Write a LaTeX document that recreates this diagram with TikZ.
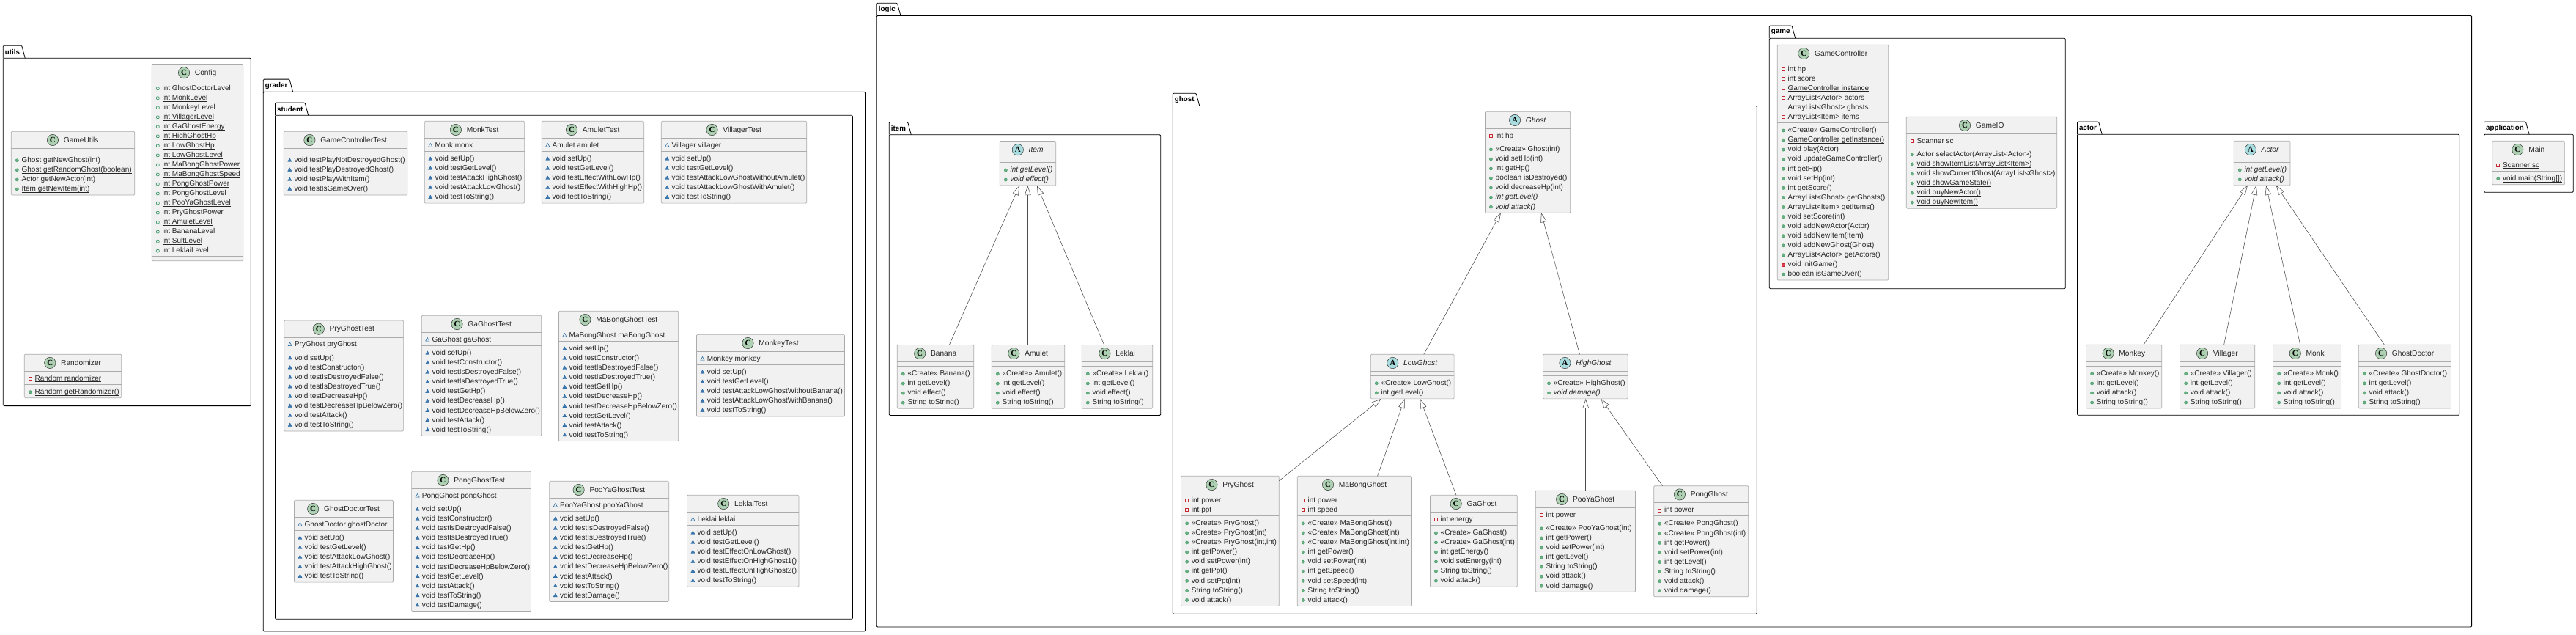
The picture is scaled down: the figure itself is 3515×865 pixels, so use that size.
\documentclass[tikz,border=0pt]{standalone}
\usepackage{fontspec}
\setmainfont{Liberation Sans}
\newfontfamily\spotfont{Liberation Serif}
\usepackage{tikz}
\usetikzlibrary{arrows.meta, positioning, calc, shapes.geometric}

\definecolor{boxfill}{HTML}{F1F1F1}
\definecolor{boxline}{HTML}{ABABAB}
\definecolor{spotgreen}{HTML}{ADD1B2}
\definecolor{spotblue}{HTML}{A9DCDF}
\definecolor{visgreen}{HTML}{2F8F5F}
\definecolor{visgreenfill}{HTML}{68B07F}
\definecolor{visred}{HTML}{C82930}
\definecolor{visredfill}{HTML}{E04050}
\definecolor{visblue}{HTML}{1963A0}
\definecolor{visbluefill}{HTML}{4177AF}

\tikzset{
    classbox/.style={rectangle, draw=boxline, fill=boxfill, line width=0.7pt, rounded corners=1.2pt, inner sep=0pt, outer sep=0pt},
    sepline/.style={draw=boxline, line width=0.7pt},
    rowtext/.style={anchor=west, inner sep=0pt, outer sep=0pt, text height=7.5pt, text depth=2pt, font=\fontsize{10}{12}\selectfont, text=black!85},
    classname/.style={inner sep=0pt, outer sep=0pt, text height=7.5pt, text depth=2pt, font=\fontsize{10.2}{12}\selectfont, text=black!85},
    spotC/.style={circle, draw=black!80, fill=spotgreen, line width=0.5pt, minimum size=15.3pt, inner sep=0pt, font=\spotfont\bfseries\fontsize{11}{11}\selectfont},
    spotA/.style={spotC, fill=spotblue},
    pubm/.style={circle, draw=visgreen, fill=visgreenfill, line width=0.3pt, minimum size=4.2pt, inner sep=0pt},
    pubf/.style={circle, draw=visgreen, fill=boxfill, line width=0.6pt, minimum size=4.2pt, inner sep=0pt},
    prif/.style={rectangle, draw=visred, fill=boxfill, line width=0.6pt, minimum size=4pt, inner sep=0pt},
    prim/.style={rectangle, draw=visred, fill=visredfill, line width=0.3pt, minimum size=4.2pt, inner sep=0pt},
    pkgf/.style={regular polygon, regular polygon sides=3, draw=visblue, fill=boxfill, line width=0.5pt, minimum size=6pt, inner sep=0pt},
    pkgm/.style={regular polygon, regular polygon sides=3, draw=visblue, fill=visbluefill, line width=0.3pt, minimum size=6pt, inner sep=0pt},
    pkgbody/.style={rectangle, draw=black, line width=0.8pt, rounded corners=1.2pt, anchor=north west, inner sep=0pt, outer sep=0pt},
    pkgtab/.style={anchor=south west, inner xsep=2.6pt, inner ysep=0pt, outer sep=0pt, minimum height=17.2pt, font=\bfseries\fontsize{9.8}{12}\selectfont},
    pkgline/.style={draw=black, line width=0.8pt, rounded corners=1.2pt},
    extendsline/.style={draw=black!70, line width=0.55pt, -{Triangle[open, fill=white, length=13pt, width=8.5pt]}}
}

\newcommand{\stat}[1]{\setbox0=\hbox{#1}\rlap{\rule[-1.6pt]{\wd0}{0.5pt}}\box0}

% id, (x,y), width, fields, methods, spot, name, field rows, method rows
\newcommand{\umlclass}[9]{
    \ifnum#4=0 \pgfmathsetmacro\fieldh{5.7}\else\pgfmathsetmacro\fieldh{13.03*#4+4.7}\fi
    \ifnum#5=0 \pgfmathsetmacro\methh{6}\else\pgfmathsetmacro\methh{13.07*#5+5.73}\fi
    \pgfmathsetmacro\classh{23+\fieldh+\methh}
    \pgfmathsetmacro\sepy{23+\fieldh}
    \node [classbox, anchor=north west, minimum width=#3pt, minimum height=\classh pt] (#1) at #2 {};
    \draw [sepline] ([shift={(0,23)}]#1.north west) -- ([shift={(0,23)}]#1.north east);
    \draw [sepline] ([shift={(0,\sepy)}]#1.north west) -- ([shift={(0,\sepy)}]#1.north east);
    \node [classname] (#1-name) at ([shift={(11.15,12.2)}]#1.north) {#7};
    \node [spot#6, left=7pt of #1-name, yshift=0.5pt] (#1-spot) {#6};
    \ifnum#4>0
        \foreach \vis/\txt [count=\i] in {#8} {
            \pgfmathsetmacro\ry{23+10.2+13.03*(\i-1)}
            \node [\vis] (#1-fv\i) at ([shift={(8,\ry)}]#1.north west) {};
            \node [rowtext] (#1-f\i) at ([shift={(14.3,\ry)}]#1.north west) {\txt};
        }
    \fi
    \ifnum#5>0
        \foreach \vis/\txt [count=\i] in {#9} {
            \pgfmathsetmacro\ry{\sepy+10.8+13.07*(\i-1)}
            \node [\vis] (#1-mv\i) at ([shift={(8,\ry)}]#1.north west) {};
            \node [rowtext] (#1-m\i) at ([shift={(14.3,\ry)}]#1.north west) {\txt};
        }
    \fi
}

% id, left, body top, right, bottom
\newcommand{\umlpackage}[5]{
    \pgfmathsetmacro\pkgw{#4-#2}
    \pgfmathsetmacro\pkgh{#5-#3}
    \node [pkgbody, minimum width=\pkgw pt, minimum height=\pkgh pt] (#1) at (#2,#3) {};
    \node [pkgtab] (#1-tab) at (#1.north west) {#1};
    \draw [pkgline] (#1.north west) |- (#1-tab.north east) -- ([xshift=4.6pt]#1-tab.south east);
}

% child, offset on child top, parent, offset on parent bottom
\newcommand{\umlextends}[4]{
    \draw [extendsline] ([xshift=#2pt]#1.north west) -- ([xshift=#4pt]#3.south west);
}

\begin{document}
\begin{tikzpicture}[x=1pt, y=-1pt]

    \useasboundingbox (0,0) rectangle (3515,865);

    \umlpackage{utils}{4.3}{79.3}{342.3}{553.6}
    \umlpackage{grader}{359.3}{125.3}{1180.4}{861}
    \umlpackage{student}{375.5}{157.3}{1163.4}{844.3}
    \umlpackage{logic}{1196.3}{21.5}{3372.6}{855}
    \umlpackage{item}{1213.3}{183.7}{1583.7}{566.5}
    \umlpackage{ghost}{1600.3}{144.4}{2397.3}{837.3}
    \umlpackage{game}{2414.3}{52.3}{2818.3}{393.7}
    \umlpackage{actor}{2834.4}{183.3}{3355.7}{566.3}
    \umlpackage{application}{3389.5}{183.3}{3511.3}{262.3}

    \umlclass{config}{(207.3,87.5)}{124.4}{18}{0}{C}{Config}{
        pubf/\stat{int GhostDoctorLevel}, pubf/\stat{int MonkLevel}, pubf/\stat{int MonkeyLevel},
        pubf/\stat{int VillagerLevel}, pubf/\stat{int GaGhostEnergy}, pubf/\stat{int HighGhostHp},
        pubf/\stat{int LowGhostHp}, pubf/\stat{int LowGhostLevel}, pubf/\stat{int MaBongGhostPower},
        pubf/\stat{int MaBongGhostSpeed}, pubf/\stat{int PongGhostPower}, pubf/\stat{int PongGhostLevel},
        pubf/\stat{int PooYaGhostLevel}, pubf/\stat{int PryGhostPower}, pubf/\stat{int AmuletLevel},
        pubf/\stat{int BananaLevel}, pubf/\stat{int SultLevel}, pubf/\stat{int LeklaiLevel}}{}
    \umlclass{gameutils}{(15.3,179.3)}{168.4}{0}{4}{C}{GameUtils}{}{
        pubm/\stat{Ghost getNewGhost(int)}, pubm/\stat{Ghost getRandomGhost(boolean)},
        pubm/\stat{Actor getNewActor(int)}, pubm/\stat{Item getNewItem(int)}}
    \umlclass{randomizer}{(33.3,483.2)}{132.4}{1}{1}{C}{Randomizer}{
        prif/\stat{Random randomizer}}{
        pubm/\stat{Random getRandomizer()}}

    \umlclass{gamecontrollertest}{(387.3,179.3)}{168.4}{0}{4}{C}{GameControllerTest}{}{
        pkgm/void testPlayNotDestroyedGhost(), pkgm/void testPlayDestroyedGhost(),
        pkgm/void testPlayWithItem(), pkgm/void testIsGameOver()}
    \umlclass{monktest}{(579.3,165.3)}{136.4}{1}{5}{C}{MonkTest}{
        pkgf/Monk monk}{
        pkgm/void setUp(), pkgm/void testGetLevel(), pkgm/void testAttackHighGhost(),
        pkgm/void testAttackLowGhost(), pkgm/void testToString()}
    \umlclass{amulettest}{(739.3,165.3)}{139.4}{1}{5}{C}{AmuletTest}{
        pkgf/Amulet amulet}{
        pkgm/void setUp(), pkgm/void testGetLevel(), pkgm/void testEffectWithLowHp(),
        pkgm/void testEffectWithHighHp(), pkgm/void testToString()}
    \umlclass{villagertest}{(902.3,165.3)}{198.5}{1}{5}{C}{VillagerTest}{
        pkgf/Villager villager}{
        pkgm/void setUp(), pkgm/void testGetLevel(), pkgm/void testAttackLowGhostWithoutAmulet(),
        pkgm/void testAttackLowGhostWithAmulet(), pkgm/void testToString()}
    \umlclass{pryghosttest}{(387.7,437)}{162.9}{1}{8}{C}{PryGhostTest}{
        pkgf/PryGhost pryGhost}{
        pkgm/void setUp(), pkgm/void testConstructor(), pkgm/void testIsDestroyedFalse(),
        pkgm/void testIsDestroyedTrue(), pkgm/void testDecreaseHp(), pkgm/void testDecreaseHpBelowZero(),
        pkgm/void testAttack(), pkgm/void testToString()}
    \umlclass{gaghosttest}{(575.3,430.3)}{163.5}{1}{9}{C}{GaGhostTest}{
        pkgf/GaGhost gaGhost}{
        pkgm/void setUp(), pkgm/void testConstructor(), pkgm/void testIsDestroyedFalse(),
        pkgm/void testIsDestroyedTrue(), pkgm/void testGetHp(), pkgm/void testDecreaseHp(),
        pkgm/void testDecreaseHpBelowZero(), pkgm/void testAttack(), pkgm/void testToString()}
    \umlclass{mabongghosttest}{(762.4,424.3)}{163.4}{1}{10}{C}{MaBongGhostTest}{
        pkgf/MaBongGhost maBongGhost}{
        pkgm/void setUp(), pkgm/void testConstructor(), pkgm/void testIsDestroyedFalse(),
        pkgm/void testIsDestroyedTrue(), pkgm/void testGetHp(), pkgm/void testDecreaseHp(),
        pkgm/void testDecreaseHpBelowZero(), pkgm/void testGetLevel(), pkgm/void testAttack(),
        pkgm/void testToString()}
    \umlclass{monkeytest}{(950.5,456.3)}{201.9}{1}{5}{C}{MonkeyTest}{
        pkgf/Monkey monkey}{
        pkgm/void setUp(), pkgm/void testGetLevel(), pkgm/void testAttackLowGhostWithoutBanana(),
        pkgm/void testAttackLowGhostWithBanana(), pkgm/void testToString()}
    \umlclass{ghostdoctortest}{(401.4,682.3)}{135}{1}{5}{C}{GhostDoctorTest}{
        pkgf/GhostDoctor ghostDoctor}{
        pkgm/void setUp(), pkgm/void testGetLevel(), pkgm/void testAttackLowGhost(),
        pkgm/void testAttackHighGhost(), pkgm/void testToString()}
    \umlclass{pongghosttest}{(561.6,643.3)}{162.9}{1}{11}{C}{PongGhostTest}{
        pkgf/PongGhost pongGhost}{
        pkgm/void setUp(), pkgm/void testConstructor(), pkgm/void testIsDestroyedFalse(),
        pkgm/void testIsDestroyedTrue(), pkgm/void testGetHp(), pkgm/void testDecreaseHp(),
        pkgm/void testDecreaseHpBelowZero(), pkgm/void testGetLevel(), pkgm/void testAttack(),
        pkgm/void testToString(), pkgm/void testDamage()}
    \umlclass{pooyaghosttest}{(749.8,656.3)}{162.9}{1}{9}{C}{PooYaGhostTest}{
        pkgf/PooYaGhost pooYaGhost}{
        pkgm/void setUp(), pkgm/void testIsDestroyedFalse(), pkgm/void testIsDestroyedTrue(),
        pkgm/void testGetHp(), pkgm/void testDecreaseHp(), pkgm/void testDecreaseHpBelowZero(),
        pkgm/void testAttack(), pkgm/void testToString(), pkgm/void testDamage()}
    \umlclass{leklaitest}{(937.4,675.3)}{152.5}{1}{6}{C}{LeklaiTest}{
        pkgf/Leklai leklai}{
        pkgm/void setUp(), pkgm/void testGetLevel(), pkgm/void testEffectOnLowGhost(),
        pkgm/void testEffectOnHighGhost1(), pkgm/void testEffectOnHighGhost2(), pkgm/void testToString()}

    \umlclass{itemclass}{(1364.3,192.5)}{76.4}{0}{2}{A}{\textit{Item}}{}{
        pubm/\textit{int getLevel()}, pubm/\textit{void effect()}}
    \umlclass{banana}{(1224.3,470.5)}{104.4}{0}{4}{C}{Banana}{}{
        pubm/«Create» Banana(), pubm/int getLevel(), pubm/void effect(), pubm/String toString()}
    \umlclass{amulet}{(1353.3,470.5)}{99.4}{0}{4}{C}{Amulet}{}{
        pubm/«Create» Amulet(), pubm/int getLevel(), pubm/void effect(), pubm/String toString()}
    \umlclass{leklai}{(1476.3,470.5)}{96.4}{0}{4}{C}{Leklai}{}{
        pubm/«Create» Leklai(), pubm/int getLevel(), pubm/void effect(), pubm/String toString()}

    \umlclass{ghostclass}{(2026.4,152.3)}{116.4}{1}{7}{A}{\textit{Ghost}}{
        prif/int hp}{
        pubm/«Create» Ghost(int), pubm/void setHp(int), pubm/int getHp(), pubm/boolean isDestroyed(),
        pubm/void decreaseHp(int), pubm/\textit{int getLevel()}, pubm/\textit{void attack()}}
    \umlclass{lowghost}{(1870.3,483.3)}{113.8}{0}{2}{A}{\textit{LowGhost}}{}{
        pubm/«Create» LowGhost(), pubm/int getLevel()}
    \umlclass{highghost}{(2105.5,483.3)}{115.8}{0}{2}{A}{\textit{HighGhost}}{}{
        pubm/«Create» HighGhost(), pubm/\textit{void damage()}}
    \umlclass{pryghost}{(1611.6,649.3)}{133.7}{2}{9}{C}{PryGhost}{
        prif/int power, prif/int ppt}{
        pubm/«Create» PryGhost(), pubm/«Create» PryGhost(int), pubm/{«Create» PryGhost(int,int)},
        pubm/int getPower(), pubm/void setPower(int), pubm/int getPpt(), pubm/void setPpt(int),
        pubm/String toString(), pubm/void attack()}
    \umlclass{mabongghost}{(1770.3,649.3)}{156.1}{2}{9}{C}{MaBongGhost}{
        prif/int power, prif/int speed}{
        pubm/«Create» MaBongGhost(), pubm/«Create» MaBongGhost(int), pubm/{«Create» MaBongGhost(int,int)},
        pubm/int getPower(), pubm/void setPower(int), pubm/int getSpeed(), pubm/void setSpeed(int),
        pubm/String toString(), pubm/void attack()}
    \umlclass{gaghost}{(1951.4,675.3)}{118.9}{1}{6}{C}{GaGhost}{
        prif/int energy}{
        pubm/«Create» GaGhost(), pubm/«Create» GaGhost(int), pubm/int getEnergy(),
        pubm/void setEnergy(int), pubm/String toString(), pubm/void attack()}
    \umlclass{pooyaghost}{(2095.3,669.3)}{136.2}{1}{7}{C}{PooYaGhost}{
        prif/int power}{
        pubm/«Create» PooYaGhost(int), pubm/int getPower(), pubm/void setPower(int), pubm/int getLevel(),
        pubm/String toString(), pubm/void attack(), pubm/void damage()}
    \umlclass{pongghost}{(2256.7,662.7)}{129}{1}{8}{C}{PongGhost}{
        prif/int power}{
        pubm/«Create» PongGhost(), pubm/«Create» PongGhost(int), pubm/int getPower(), pubm/void setPower(int),
        pubm/int getLevel(), pubm/String toString(), pubm/void attack(), pubm/void damage()}

    \umlclass{gamecontroller}{(2425.3,61.3)}{151.4}{6}{16}{C}{GameController}{
        prif/int hp, prif/int score, prif/\stat{GameController instance},
        prif/ArrayList<Actor> actors, prif/ArrayList<Ghost> ghosts, prif/ArrayList<Item> items}{
        pubm/«Create» GameController(), pubm/\stat{GameController getInstance()}, pubm/void play(Actor),
        pubm/void updateGameController(), pubm/int getHp(), pubm/void setHp(int), pubm/int getScore(),
        pubm/ArrayList<Ghost> getGhosts(), pubm/ArrayList<Item> getItems(), pubm/void setScore(int),
        pubm/void addNewActor(Actor), pubm/void addNewItem(Item), pubm/void addNewGhost(Ghost),
        pubm/ArrayList<Actor> getActors(), prim/void initGame(), pubm/boolean isGameOver()}
    \umlclass{gameio}{(2601.3,159.3)}{205.4}{1}{6}{C}{GameIO}{
        prif/\stat{Scanner sc}}{
        pubm/\stat{Actor selectActor(ArrayList<Actor>)}, pubm/\stat{void showItemList(ArrayList<Item>)},
        pubm/\stat{void showCurrentGhost(ArrayList<Ghost>)}, pubm/\stat{void showGameState()},
        pubm/\stat{void buyNewActor()}, pubm/\stat{void buyNewItem()}}

    \umlclass{actorclass}{(3048.2,192.3)}{76.8}{0}{2}{A}{\textit{Actor}}{}{
        pubm/\textit{int getLevel()}, pubm/\textit{void attack()}}
    \umlclass{monkey}{(2846.6,470.3)}{103.1}{0}{4}{C}{Monkey}{}{
        pubm/«Create» Monkey(), pubm/int getLevel(), pubm/void attack(), pubm/String toString()}
    \umlclass{villager}{(2974.6,470.3)}{102.2}{0}{4}{C}{Villager}{}{
        pubm/«Create» Villager(), pubm/int getLevel(), pubm/void attack(), pubm/String toString()}
    \umlclass{monk}{(3101.6,470.3)}{92.8}{0}{4}{C}{Monk}{}{
        pubm/«Create» Monk(), pubm/int getLevel(), pubm/void attack(), pubm/String toString()}
    \umlclass{ghostdoctor}{(3218.3,470.3)}{126.2}{0}{4}{C}{GhostDoctor}{}{
        pubm/«Create» GhostDoctor(), pubm/int getLevel(), pubm/void attack(), pubm/String toString()}

    \umlclass{mainclass}{(3400.7,192.3)}{98.9}{1}{1}{C}{Main}{
        prif/\stat{Scanner sc}}{
        pubm/\stat{void main(String[])}}

    \umlextends{banana}{71}{itemclass}{26.7}
    \umlextends{amulet}{49}{itemclass}{38}
    \umlextends{leklai}{30.4}{itemclass}{50.7}

    \umlextends{lowghost}{72.5}{ghostclass}{21.5}
    \umlextends{highghost}{50}{ghostclass}{76.6}
    \draw [extendsline] ([yshift=-6.4pt]pryghost.north east) -- ([xshift=14.3pt]lowghost.south west);
    \umlextends{mabongghost}{109.2}{lowghost}{46.4}
    \umlextends{gaghost}{35.6}{lowghost}{67.4}
    \umlextends{pooyaghost}{68.4}{highghost}{58.2}
    \umlextends{pongghost}{11.8}{highghost}{79.1}

    \umlextends{monkey}{78.3}{actorclass}{18.7}
    \umlextends{villager}{60}{actorclass}{30.4}
    \umlextends{monk}{37}{actorclass}{44}
    \umlextends{ghostdoctor}{35.2}{actorclass}{57.6}

\end{tikzpicture}
\end{document}
